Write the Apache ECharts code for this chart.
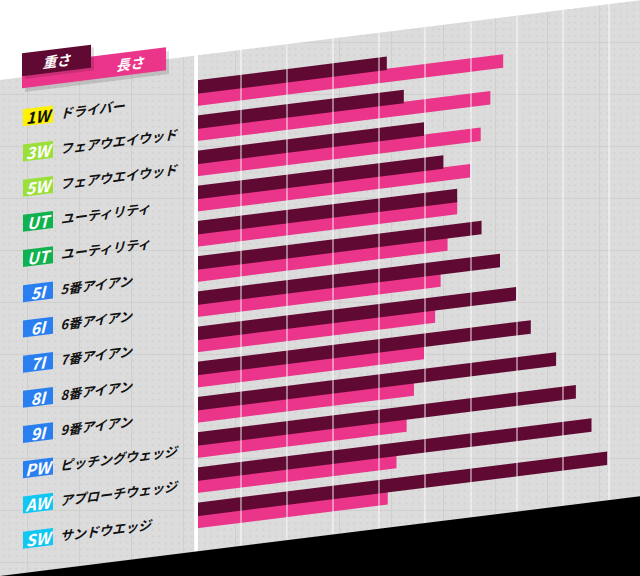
<!DOCTYPE html>
<html>
<head>
<meta charset="utf-8">
<script src="https://cdn.jsdelivr.net/npm/echarts@6/dist/echarts.min.js"></script>
<style>
html, body { margin: 0; padding: 0; width: 640px; height: 576px; overflow: hidden; }
body {
  background-color: #dcdcdc;
  background-image:
    linear-gradient(to right, #cfcfcf 1px, transparent 1px),
    linear-gradient(to bottom, #cfcfcf 1px, transparent 1px),
    radial-gradient(circle, rgba(0,0,0,0.07) 0.7px, transparent 1.1px);
  background-size: 52px 52px, 52px 52px, 6.5px 6.5px;
  background-position: 27px 0, 0 42px, 0 0;
}
#chart {
  position: absolute; left: 0; top: 0; width: 720px; height: 720px;
  transform-origin: 0 0; transform: skewY(-7.1deg);
}
</style>
</head>
<body>
<div id="chart"></div>
<script>
// ---- data ----
const categories = ['1W','3W','5W','UT','UT','5I','6I','7I','8I','9I','PW','AW','SW'];
const clubNames = ['ドライバー','フェアウエイウッド','フェアウエイウッド','ユーティリティ','ユーティリティ','5番アイアン','6番アイアン','7番アイアン','8番アイアン','9番アイアン','ピッチングウェッジ','アプローチウェッジ','サンドウエッジ'];
const seriesNames = ['重さ','長さ'];
const weightValues = [4.17,4.54,4.98,5.40,5.70,6.23,6.63,6.98,7.30,7.85,8.28,8.62,8.96];
const lengthValues = [6.70,6.42,6.21,5.98,5.70,5.49,5.34,5.22,4.98,4.76,4.60,4.38,4.19];

// ---- styles ----
const FONT = "'Noto Sans CJK JP', 'Noto Sans', sans-serif";
const DARK = '#600a33';
const PINK = '#ea358a';
const badgeKey = { '1W':'y', '3W':'g', '5W':'g', 'UT':'u', '5I':'b', '6I':'b', '7I':'b', '8I':'b', '9I':'b', 'PW':'b', 'AW':'c', 'SW':'c' };
function badge(bg, fg) {
  return { backgroundColor: bg, color: fg, width: 30, height: 17, lineHeight: 17, align: 'center',
           fontSize: 16, fontWeight: 'bold', fontStyle: 'italic', fontFamily: FONT };
}
const rich = {
  y: badge('#fff200', '#111'),
  g: badge('#9be03a', '#fff'),
  u: badge('#10b14f', '#fff'),
  b: badge('#2a7ff0', '#fff'),
  c: badge('#12c6f2', '#fff'),
  n: { padding: [0, 0, 0, 7], fontSize: 13, fontWeight: 'bold', fontStyle: 'italic', color: '#111', fontFamily: FONT }
};

const chart = echarts.init(document.getElementById('chart'), null, { renderer: 'svg' });
const option = {
  backgroundColor: 'transparent',
  animation: false,
  grid: [
    { left: 195, top: 100, width: 460, height: 457.6, show: false },
    { left: 195, top: 80, width: 460, height: 496, show: false }
  ],
  xAxis: [
    { gridIndex: 0, type: 'value', min: 0, max: 10, interval: 1,
      axisLabel: { show: false }, axisLine: { show: false }, axisTick: { show: false }, splitLine: { show: false } },
    { gridIndex: 1, type: 'value', min: 0, max: 10, interval: 1, z: 10,
      axisLabel: { show: false }, axisLine: { show: false }, axisTick: { show: false },
      splitLine: { show: true, lineStyle: { color: 'rgba(255,255,255,0.6)', width: 1.5 } } }
  ],
  yAxis: [
    { gridIndex: 0, type: 'category', inverse: true, data: categories,
      axisLine: { show: false }, axisTick: { show: false }, splitLine: { show: false },
      axisLabel: {
        align: 'left', margin: 172, padding: [6, 0, 0, 0], interval: 0,
        formatter: (v, i) => '{' + badgeKey[v] + '|' + v + '}{n|' + clubNames[i] + '}',
        rich: rich
      } },
    { gridIndex: 1, type: 'value', min: 0, max: 1, show: false }
  ],
  series: [
    { name: seriesNames[0], type: 'bar', xAxisIndex: 0, yAxisIndex: 0, data: weightValues,
      barWidth: 13.5, barGap: '-10%', itemStyle: { color: DARK }, z: 3 },
    { name: seriesNames[1], type: 'bar', xAxisIndex: 0, yAxisIndex: 0, data: lengthValues,
      barWidth: 13.5, barGap: '-10%', itemStyle: { color: PINK }, z: 2 }
  ],
  graphic: [
    // white top area, black bottom area, white separator
    { type: 'rect', z: -10, shape: { x: 0, y: 0, width: 720, height: 80 }, style: { fill: '#ffffff' } },
    { type: 'rect', z: 50, shape: { x: 0, y: 576, width: 720, height: 150 }, style: { fill: '#000000' } },
    { type: 'rect', z: 40, shape: { x: 194.5, y: 0, width: 3.5, height: 576 }, style: { fill: '#ffffff' } },
    // legend tabs
    { type: 'rect', z: 60, shape: { x: 25, y: 72, width: 144, height: 23 }, style: { fill: 'rgba(0,0,0,0.13)' } },
    { type: 'rect', z: 61, shape: { x: 22, y: 68, width: 144, height: 23 }, style: { fill: PINK } },
    { type: 'rect', z: 62, shape: { x: 25, y: 59, width: 69, height: 23 }, style: { fill: 'rgba(0,0,0,0.13)' } },
    { type: 'rect', z: 63, shape: { x: 22, y: 56, width: 69, height: 23 }, style: { fill: DARK } },
    { type: 'text', z: 64, x: 56.5, y: 67.5, style: { text: seriesNames[0], fill: '#fff', fontSize: 14, fontWeight: 'bold', fontStyle: 'italic', fontFamily: FONT, align: 'center', verticalAlign: 'middle' } },
    { type: 'text', z: 64, x: 130, y: 79.5, style: { text: seriesNames[1], fill: '#fff', fontSize: 14, fontWeight: 'bold', fontStyle: 'italic', fontFamily: FONT, align: 'center', verticalAlign: 'middle' } }
  ]
};
chart.setOption(option);
</script>
</body>
</html>
